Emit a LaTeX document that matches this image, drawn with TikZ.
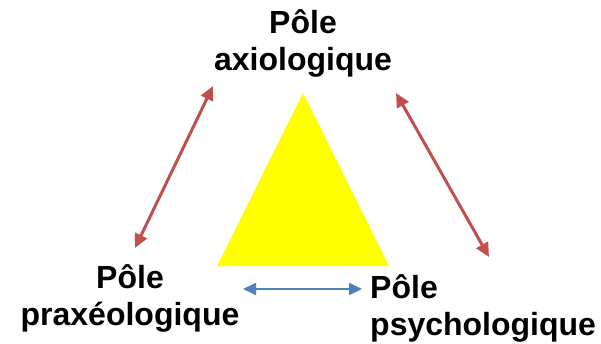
\documentclass[tikz,border=0pt]{standalone}
\usepackage{fontspec}
\setmainfont{Liberation Sans}
\usetikzlibrary{arrows.meta}
\definecolor{redarrow}{RGB}{192,80,77}
\definecolor{bluearrow}{RGB}{79,129,189}
\definecolor{triyellow}{RGB}{255,255,0}
\begin{document}
\begin{tikzpicture}[x=1pt,y=-1pt,
  lbl/.style={font=\fontsize{32}{37}\selectfont\bfseries, inner sep=0pt},
  redarr/.style={draw=redarrow, line width=3pt, {Triangle[length=14pt,width=13pt]}-{Triangle[length=14pt,width=13pt]}},
  bluearr/.style={draw=bluearrow, line width=2pt, {Triangle[length=13pt,width=12pt]}-{Triangle[length=13pt,width=12pt]}}]
\useasboundingbox (0,0) rectangle (601,344);
\fill[triyellow] (303,93) -- (217,266) -- (389,266) -- cycle;
\node[lbl, align=center, anchor=north] (ax) at (303,9) {Pôle\\axiologique};
\node[lbl, align=center, anchor=north] (pr) at (130,264) {Pôle\\praxéologique};
\node[lbl, align=left, anchor=north west] (ps) at (370,274) {Pôle\\psychologique};
\coordinate (l1) at (135,248);
\coordinate (l2) at (213,86);
\coordinate (r1) at (396,93);
\coordinate (r2) at (489,257);
\coordinate (b1) at (243,289);
\coordinate (b2) at (362,289);
\draw[redarr] (l1) -- (l2);
\draw[redarr] (r1) -- (r2);
\draw[bluearr] (b1) -- (b2);
\end{tikzpicture}
\end{document}
